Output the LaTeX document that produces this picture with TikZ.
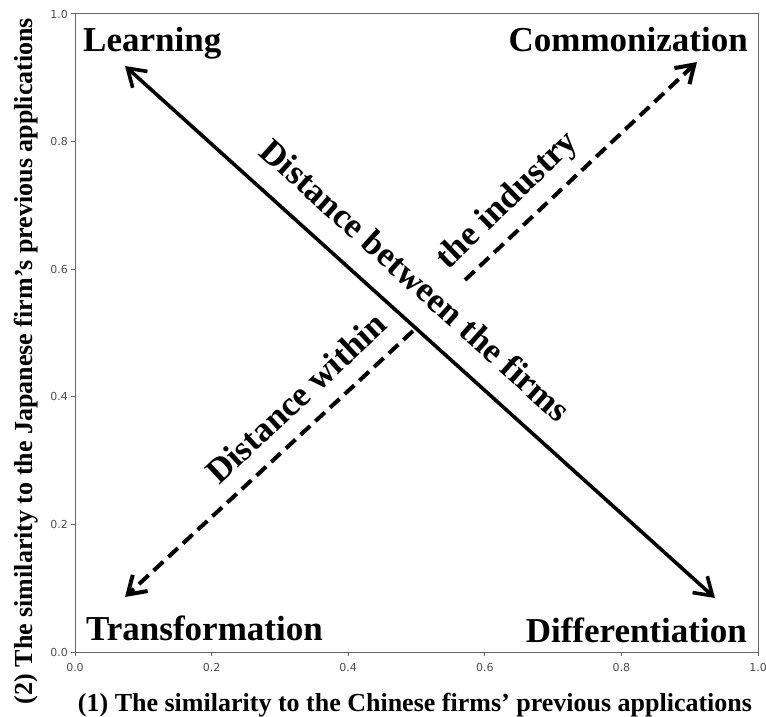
\documentclass[tikz,border=0pt]{standalone}
\usepackage{fontspec}
\setmainfont{Liberation Serif}
\newfontfamily\tickfont{DejaVu Sans}
\usetikzlibrary{arrows.meta}

\begin{document}
\begin{tikzpicture}[
    x=1pt, y=-1pt,
    corner/.style={font=\fontsize{35}{35}\selectfont\bfseries, inner sep=0pt},
    diag/.style={font=\fontsize{35}{35}\selectfont\bfseries, inner sep=0pt},
    axislabel/.style={font=\fontsize{26}{26}\selectfont\bfseries, inner sep=0pt},
    tick/.style={font=\tickfont\fontsize{11}{11}\selectfont, text=black!70, inner sep=0pt},
    frame/.style={draw=black!60, line width=1pt},
    arrow/.style={line width=3.6pt, >={Straight Barb[length=17pt,width=22pt]}},
    dashedarrow/.style={arrow, line width=4pt, dash pattern=on 13pt off 7pt}
]
    \useasboundingbox (0,0) rectangle (766,717);

    % Axes box and ticks
    \draw[frame] (75,14) rectangle (758,652);
    \foreach \v/\t in {0/0.0, 1/0.2, 2/0.4, 3/0.6, 4/0.8, 5/1.0} {
        \draw[frame] (75+136.6*\v,652) -- (75+136.6*\v,656);
        \node[tick] (xt\v) at (75+136.6*\v,667) {\t};
        \draw[frame] (75,652-127.6*\v) -- (71,652-127.6*\v);
        \node[tick, anchor=east] (yt\v) at (68,652-127.6*\v) {\t};
    }

    % Axis titles
    \node[axislabel, anchor=base] (xlab) at (415,711) {(1) The similarity to the Chinese firms' previous applications};
    \node[axislabel, anchor=base, rotate=90] (ylab) at (32,361) {(2) The similarity to the Japanese firm's previous applications};

    % Corner labels
    \node[corner, anchor=base west] (learn) at (83,52) {Learning};
    \node[corner, anchor=base east] (common) at (748,52) {Commonization};
    \node[corner, anchor=base west] (trans) at (86,640) {Transformation};
    \node[corner, anchor=base east] (diff) at (747,642) {Differentiation};

    % Arrow end points
    \coordinate (learnTip) at (125,66);
    \coordinate (diffTip) at (715,598);
    \coordinate (transTip) at (125,597);
    \coordinate (cross) at (413,331);
    \coordinate (gapEnd) at (465,280);
    \coordinate (commonTip) at (697,62);

    % Distance between the firms (solid)
    \draw[arrow, <->] (learnTip) -- (diffTip);
    % Distance within the industry (dashed, split by the text)
    \draw[dashedarrow, ->] (cross) -- (transTip);
    \draw[dashedarrow, ->] (gapEnd) -- (commonTip);

    % Arrow labels
    \node[diag, rotate=-42] (between) at (416,280) {Distance between the firms};
    \node[diag, rotate=43] (within) at (296,398) {Distance within};
    \node[diag, rotate=44] (industry) at (508,201) {the industry};
\end{tikzpicture}
\end{document}
